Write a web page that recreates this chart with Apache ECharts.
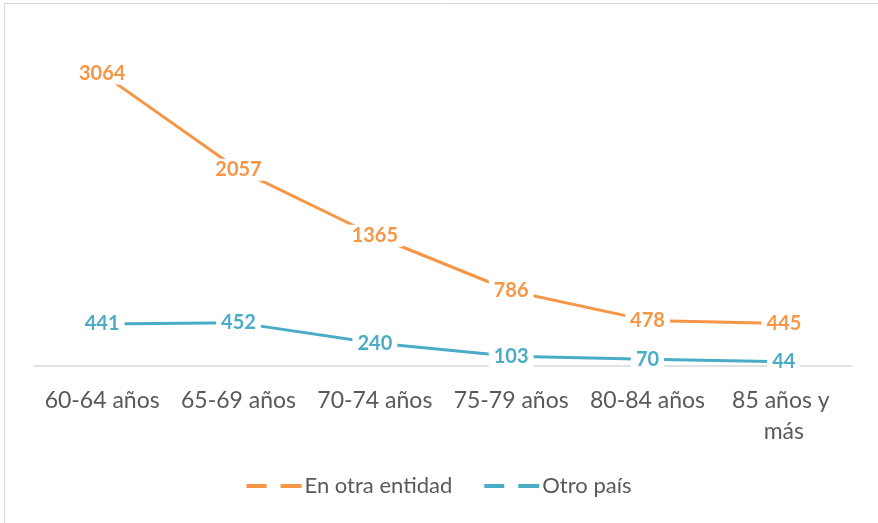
<!DOCTYPE html>
<html>
<head>
<meta charset="utf-8">
<script src="https://cdn.jsdelivr.net/npm/echarts@6/dist/echarts.min.js"></script>
<style>
    html, body { margin: 0; padding: 0; background: #fff; }
    #chart { width: 878px; height: 523px; }
</style>
</head>
<body>
<div id="chart"></div>
<script>
// categorias de edad
var categories = ['60-64 años', '65-69 años', '70-74 años', '75-79 años', '80-84 años', '85 años y más'];
// series
var otraEntidad = [3064, 2057, 1365, 786, 478, 445];
var otroPais = [441, 452, 240, 103, 70, 44];

var orange = '#F79646';
var teal = '#4BACC6';
var font = 'Lato, "Open Sans", sans-serif';

function labelStyle(color) {
    return {
        show: true,
        position: 'inside',
        color: color,
        fontFamily: font,
        fontWeight: 'bold',
        fontSize: 20,
        backgroundColor: '#fff',
        padding: [1, 5]
    };
}

var myChart = echarts.init(document.getElementById('chart'));
myChart.setOption({
    animation: false,
    grid: { left: 34, right: 26, top: 32, bottom: 157 },
    graphic: [
        { type: 'line', shape: { x1: 4.5, y1: 3.5, x2: 878, y2: 3.5 }, style: { stroke: '#d9d9d9', lineWidth: 1 } },
        { type: 'line', shape: { x1: 4.5, y1: 3.5, x2: 4.5, y2: 523 }, style: { stroke: '#d9d9d9', lineWidth: 1 } }
    ],
    legend: {
        bottom: 21,
        left: 'center',
        itemWidth: 55,
        itemHeight: 4,
        itemGap: 32,
        textStyle: { color: '#595959', fontFamily: font, fontSize: 22, padding: [0, 0, 0, -2] },
        data: [
            { name: 'En otra entidad', icon: 'path://M0,0h20v4h-20z M34,0h21v4h-21z', itemStyle: { color: orange } },
            { name: 'Otro país', icon: 'path://M0,0h20v4h-20z M34,0h21v4h-21z', itemStyle: { color: teal } }
        ]
    },
    xAxis: {
        type: 'category',
        data: categories,
        boundaryGap: true,
        axisLine: { lineStyle: { color: '#d9d9d9', width: 1.5 } },
        axisTick: { show: false },
        axisLabel: {
            color: '#595959',
            fontFamily: font,
            fontSize: 23,
            margin: 19,
            lineHeight: 31,
            width: 134,
            overflow: 'break',
            interval: 0
        }
    },
    yAxis: {
        type: 'value',
        min: 0,
        max: 3500,
        show: false,
        splitLine: { show: false }
    },
    series: [
        {
            name: 'En otra entidad',
            type: 'line',
            data: otraEntidad,
            symbol: 'circle',
            symbolSize: 3,
            lineStyle: { color: orange, width: 3 },
            itemStyle: { color: orange },
            label: labelStyle(orange),
            z: 3
        },
        {
            name: 'Otro país',
            type: 'line',
            data: otroPais,
            symbol: 'circle',
            symbolSize: 3,
            lineStyle: { color: teal, width: 3 },
            itemStyle: { color: teal },
            label: labelStyle(teal),
            z: 3
        }
    ]
});
</script>
</body>
</html>
